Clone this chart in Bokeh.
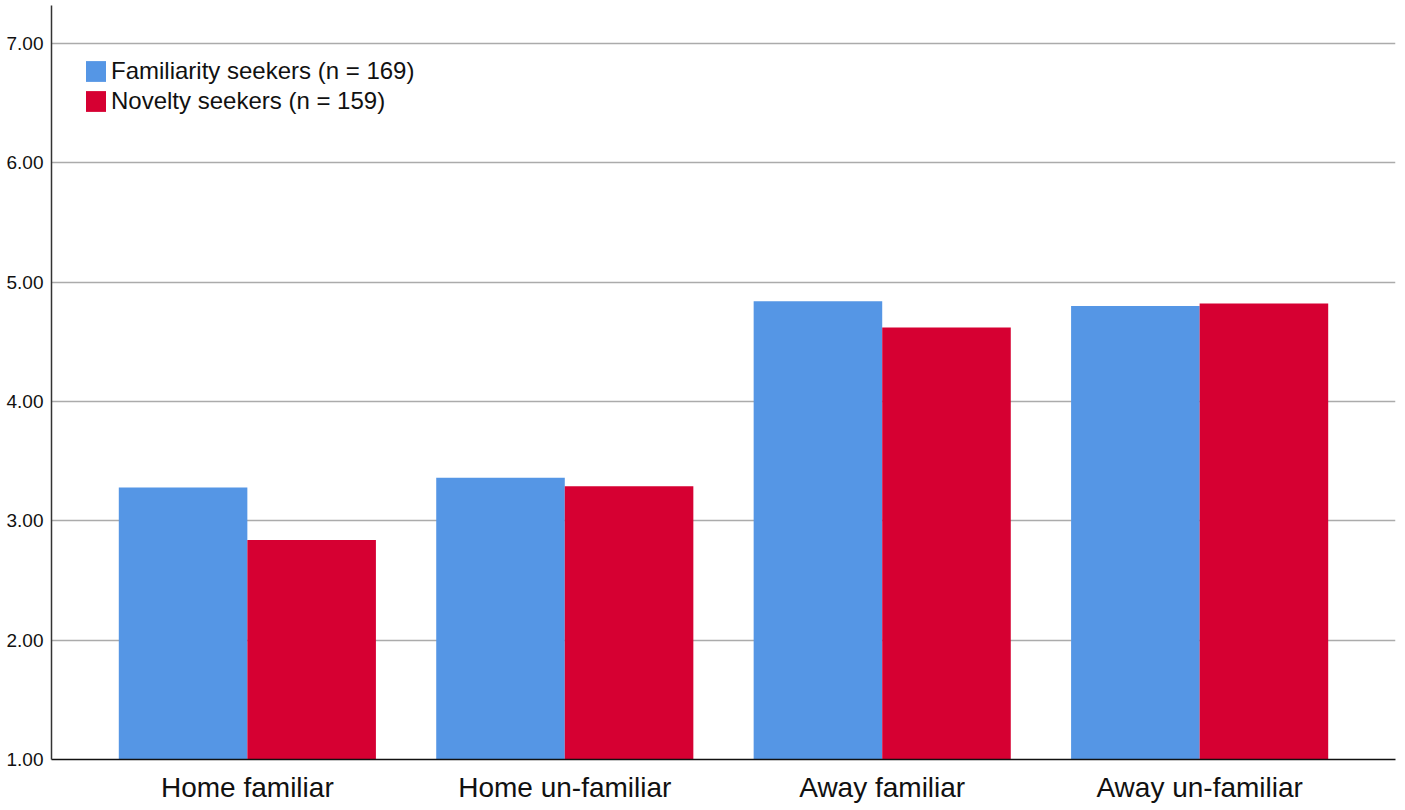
from bokeh.plotting import figure
from bokeh.models import ColumnDataSource, Range1d, FixedTicker, PrintfTickFormatter, Legend
from bokeh.transform import dodge
from bokeh.embed import file_html
from bokeh.resources import INLINE

categories = ["Home familiar", "Home un-familiar", "Away familiar", "Away un-familiar"]
familiarity_seekers = [3.28, 3.36, 4.84, 4.80]
novelty_seekers = [2.84, 3.29, 4.62, 4.82]
y_ticks = [1, 2, 3, 4, 5, 6, 7]

FONT = "Liberation Sans"
BLUE = "#5596e5"
RED = "#d60032"

xpos = [i + 0.5 for i in range(len(categories))]
source = ColumnDataSource(dict(x=xpos, fam=familiarity_seekers, nov=novelty_seekers))

p = figure(width=1400, height=805, output_backend="svg", toolbar_location=None,
           x_range=Range1d(-0.117, 4.117), y_range=Range1d(1, 7.318),
           min_border_left=51, min_border_right=5, min_border_top=5, min_border_bottom=46,
           frame_width=1344, frame_height=754)
p.outline_line_color = None
p.background_fill_color = "white"

bw = 0.405
r1 = p.vbar(x=dodge("x", -bw / 2, range=p.x_range), top="fam", bottom=1, width=bw,
            source=source, fill_color=BLUE, line_color=None)
r2 = p.vbar(x=dodge("x", bw / 2, range=p.x_range), top="nov", bottom=1, width=bw,
            source=source, fill_color=RED, line_color=None)

legend = Legend(items=[("Familiarity seekers (n = 169)", [r1]), ("Novelty seekers (n = 159)", [r2])],
                location=(32, 644), orientation="vertical")
legend.border_line_color = None
legend.background_fill_alpha = 0
legend.padding = 0
legend.margin = 0
legend.glyph_width = 25
legend.glyph_height = 26
legend.label_height = 21
legend.label_standoff = 3
legend.spacing = 2
legend.label_text_font = FONT
legend.label_text_font_size = "24px"
legend.label_text_color = "#111111"
p.add_layout(legend, "center")

# axes
p.xaxis.ticker = FixedTicker(ticks=xpos)
p.xaxis.major_label_overrides = {x: c for x, c in zip(xpos, categories)}
p.xaxis.major_tick_out = 0
p.xaxis.major_tick_in = 0
p.xaxis.minor_tick_out = 0
p.xaxis.minor_tick_in = 0
p.xaxis.axis_line_color = "#111111"
p.xaxis.axis_line_width = 1.5
p.xaxis.major_label_text_font = FONT
p.xaxis.major_label_text_font_size = "28px"
p.xaxis.major_label_text_color = "#111111"
p.xaxis.major_label_standoff = 12

p.yaxis.ticker = FixedTicker(ticks=y_ticks)
p.yaxis.formatter = PrintfTickFormatter(format="%.2f")
p.yaxis.major_tick_out = 0
p.yaxis.major_tick_in = 0
p.yaxis.minor_tick_out = 0
p.yaxis.minor_tick_in = 0
p.yaxis.axis_line_color = "#333333"
p.yaxis.axis_line_width = 1.5
p.yaxis.major_label_text_font = FONT
p.yaxis.major_label_text_font_size = "19px"
p.yaxis.major_label_text_color = "#111111"
p.yaxis.major_label_standoff = 8

p.xgrid.grid_line_color = None
p.ygrid.ticker = FixedTicker(ticks=y_ticks[1:])
p.ygrid.grid_line_color = "#ababab"
p.ygrid.grid_line_width = 1.5

open("out.html", "w").write(file_html(p, INLINE))
